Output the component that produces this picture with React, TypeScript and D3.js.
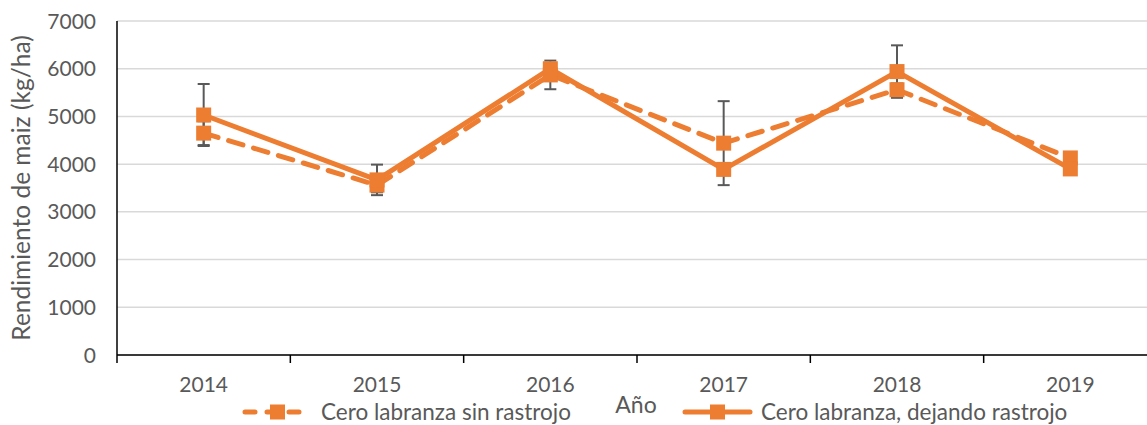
import React from "react";
import * as d3 from "d3";

const years = ["2014", "2015", "2016", "2017", "2018", "2019"];
const sinRastrojo = [4650, 3560, 5870, 4440, 5560, 4130];
const sinRastrojoErr = [250, 150, 300, 880, 130, 80];
const dejandoRastrojo = [5030, 3670, 6000, 3890, 5940, 3900];
const dejandoRastrojoErr = [650, 320, 100, 120, 550, 80];
const yTicks = [0, 1000, 2000, 3000, 4000, 5000, 6000, 7000];
const seriesNames = ["Cero labranza sin rastrojo", "Cero labranza, dejando rastrojo"];

const W = 1147;
const H = 425;
const FONT = "Lato, 'Open Sans', sans-serif";
const ORANGE = "#ED7D31";
const TEXT = "#595959";

export default function App() {
  const x = d3.scaleBand<string>().domain(years).range([117, 1157]).padding(0);
  const y = d3.scaleLinear().domain([0, 7000]).range([355, 21]);
  const cx = (d: string) => (x(d) as number) + x.bandwidth() / 2;
  const line = d3
    .line<number>()
    .x((_, i) => cx(years[i]))
    .y((v) => y(v));

  const series = [
    { name: seriesNames[0], values: sinRastrojo, err: sinRastrojoErr, dash: "15 11" },
    { name: seriesNames[1], values: dejandoRastrojo, err: dejandoRastrojoErr, dash: undefined as string | undefined },
  ];
  const ms = 15;
  const boundaries = years.map((d) => x(d) as number).concat([(x(years[years.length - 1]) as number) + x.bandwidth()]);

  return (
    <svg
      width={W}
      height={H}
      style={{ position: "absolute", left: 0, top: 0, background: "#fff" }}
      fontFamily={FONT}
    >
      {/* gridlines */}
      {yTicks.map((t) => (
        <line key={"g" + t} x1={117} x2={W} y1={y(t)} y2={y(t)} stroke="#d9d9d9" strokeWidth={1.5} />
      ))}
      {/* y tick labels */}
      {yTicks.map((t) => (
        <text key={"yl" + t} x={96} y={y(t)} dy="0.36em" textAnchor="end" fontSize={21} fill={TEXT}>
          {t}
        </text>
      ))}
      {/* axes */}
      <line x1={117} x2={117} y1={y(7000)} y2={y(0)} stroke="#000" strokeWidth={1.5} />
      <line x1={117} x2={W} y1={y(0)} y2={y(0)} stroke="#000" strokeWidth={1.5} />
      {boundaries.map((b, i) => (
        <line key={"t" + i} x1={b} x2={b} y1={y(0)} y2={y(0) + 8} stroke="#000" strokeWidth={1.5} />
      ))}
      {years.map((d) => (
        <text key={"xl" + d} x={cx(d)} y={392} textAnchor="middle" fontSize={21} fill={TEXT}>
          {d}
        </text>
      ))}
      <text x={636} y={413} textAnchor="middle" fontSize={23} fill={TEXT}>
        Año
      </text>
      <text
        transform={`translate(30,${(y(0) + y(7000)) / 2}) rotate(-90)`}
        textAnchor="middle"
        fontSize={24.5}
        fill={TEXT}
      >
        Rendimiento de maiz (kg/ha)
      </text>

      {/* error bars */}
      {series.map((s, si) =>
        s.values.map((v, i) => {
          const xx = cx(years[i]);
          const top = y(v + s.err[i]);
          const bot = y(v - s.err[i]);
          return (
            <g key={`e${si}-${i}`} stroke="#595959" strokeWidth={2}>
              <line x1={xx} x2={xx} y1={top} y2={bot} />
              <line x1={xx - 6} x2={xx + 6} y1={top} y2={top} />
              <line x1={xx - 6} x2={xx + 6} y1={bot} y2={bot} />
            </g>
          );
        })
      )}

      {/* lines and markers */}
      {series.map((s, si) => (
        <g key={"s" + si}>
          <path
            d={line(s.values) || ""}
            fill="none"
            stroke={ORANGE}
            strokeWidth={5}
            strokeDasharray={s.dash}
            strokeLinecap={s.dash ? "round" : "butt"}
            strokeLinejoin="round"
          />
          {s.values.map((v, i) => (
            <rect
              key={"m" + i}
              x={cx(years[i]) - ms / 2}
              y={y(v) - ms / 2}
              width={ms}
              height={ms}
              fill={ORANGE}
            />
          ))}
        </g>
      ))}

      {/* legend */}
      {series.map((s, si) => {
        const lx = si === 0 ? 245 : 685;
        const ly = 412;
        return (
          <g key={"lg" + si}>
            <line
              x1={lx}
              x2={lx + 65}
              y1={ly}
              y2={ly}
              stroke={ORANGE}
              strokeWidth={5}
              strokeDasharray={s.dash ? "10 12" : undefined}
              strokeLinecap="round"
            />
            <rect x={lx + 32.5 - ms / 2} y={ly - ms / 2} width={ms} height={ms} fill={ORANGE} />
            <text x={lx + 76} y={ly} dy="0.36em" fontSize={22.5} fill={TEXT}>
              {s.name}
            </text>
          </g>
        );
      })}
    </svg>
  );
}
